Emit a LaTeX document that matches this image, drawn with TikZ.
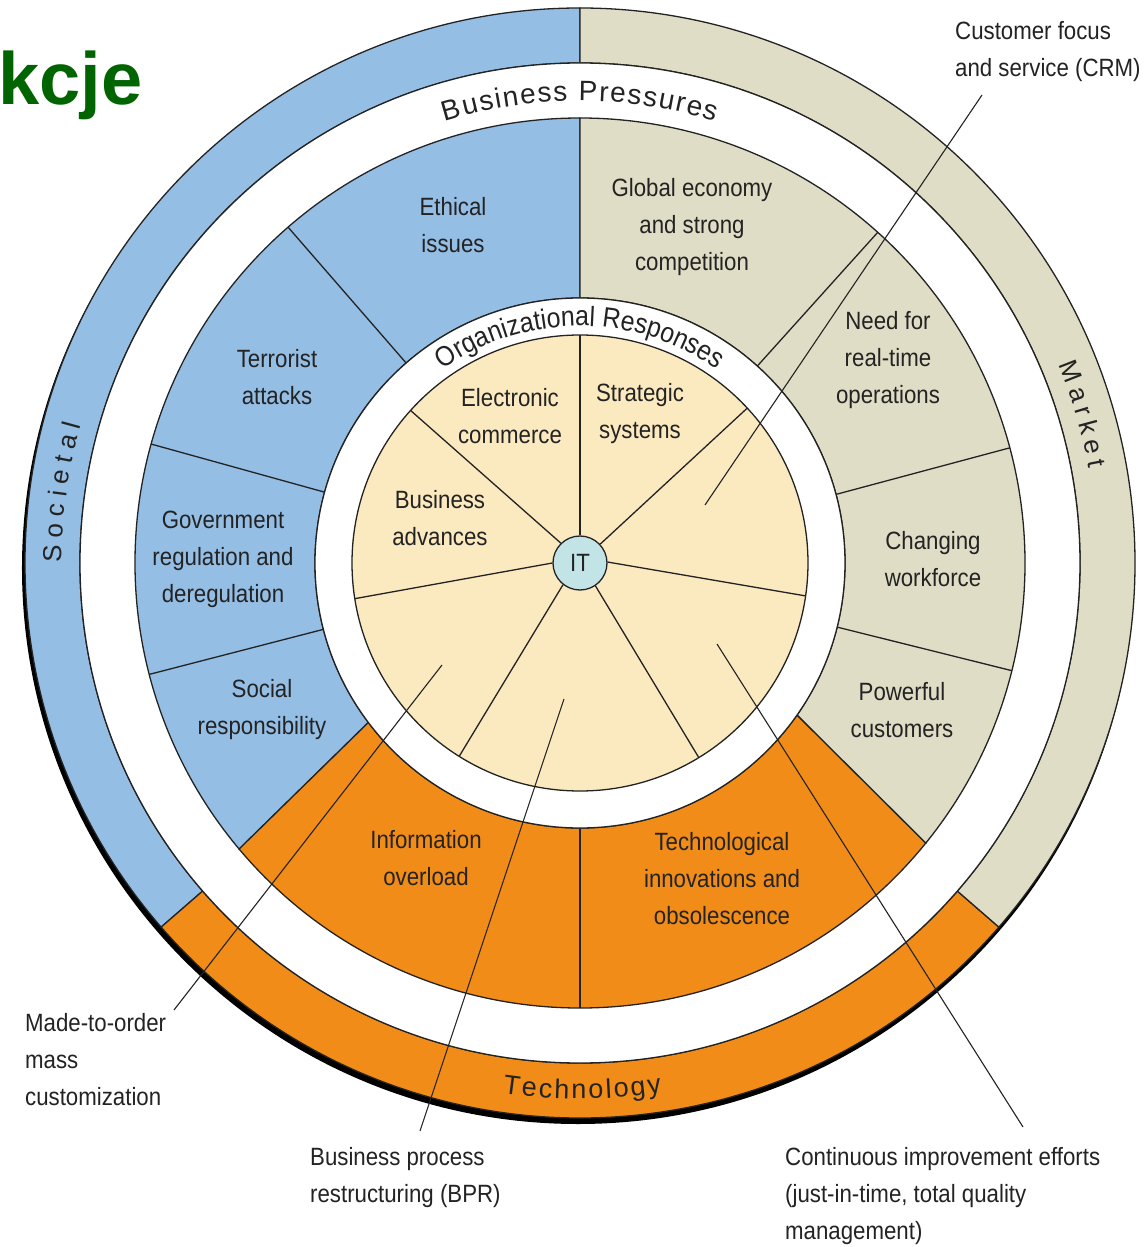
\documentclass[tikz,border=0pt]{standalone}
\usepackage{fontspec}
\setmainfont{Liberation Sans}[FakeStretch=0.89]
\newfontfamily\ringfont{Liberation Sans}
\newfontfamily\titlefont{Liberation Sans}
\usetikzlibrary{decorations.text,positioning}

\definecolor{societal}{RGB}{148,190,228}
\definecolor{market}{RGB}{224,221,198}
\definecolor{techno}{RGB}{242,140,24}
\definecolor{core}{RGB}{251,233,192}
\definecolor{itcol}{RGB}{194,228,230}
\definecolor{ink}{RGB}{35,35,35}
\definecolor{kgreen}{RGB}{0,100,0}

\begin{document}
\begin{tikzpicture}[x=1pt,y=1pt,
  rim/.style={draw=ink,line width=1.3pt},
  lbl/.style={font=\fontsize{25}{37}\selectfont,text=ink,align=center,inner sep=0pt},
  note/.style={lbl,align=left},
  callout/.style={draw=ink,line width=1.1pt}]
\useasboundingbox (-580,-684) rectangle (565,563);
\fill[white] (-580,-684) rectangle (565,563);
\fill[black] (-2,-5) circle (556);
\foreach \a/\b/\c in {90/221/societal,221/319/techno,319/450/market}
  \filldraw[rim,fill=\c] (\a:555) arc[start angle=\a,end angle=\b,radius=555]
    -- (\b:500) arc[start angle=\b,end angle=\a,radius=500] -- cycle;
\filldraw[rim,fill=white] (0,0) circle (500);
\foreach \a/\b/\p/\q/\c in {90/220/90/217/societal,220/321/217/325/techno,321/450/325/450/market}
  \filldraw[rim,fill=\c] (\a:445) arc[start angle=\a,end angle=\b,radius=445]
    -- (\q:265) arc[start angle=\q,end angle=\p,radius=265] -- cycle;
\foreach \t in {131,164.5,194.5,270,48,15,-14}
  \draw[rim] (\t:265) -- (\t:445);
\filldraw[rim,fill=white] (0,0) circle (265);
\filldraw[rim,fill=core] (0,0) circle (228);
\node[circle,rim,fill=itcol,minimum size=54pt,lbl] (it) at (0,0) {IT};
\foreach \s/\t in {90/90,134/138,180/189,232/238,304/301.4,2/-8.3,43/42.8}
  \draw[rim] (it.\s) -- (\t:228);

\path[decorate,decoration={text along path,text align=fit to path,
  text={|\ringfont\fontsize{28}{28}\selectfont\color{ink}|Business Pressures}}]
  (107:462) arc[start angle=107,end angle=73,radius=462];
\path[decorate,decoration={text along path,text align=center,
  text={|\fontsize{28}{28}\selectfont\color{ink}|Organizational Responses}}]
  (135:237) arc[start angle=135,end angle=45,radius=237];
\path[decorate,decoration={text along path,text align=fit to path,
  text={|\ringfont\fontsize{26}{26}\selectfont\color{ink}|Societal}}]
  (180:518) arc[start angle=180,end angle=164.5,radius=518];
\path[decorate,decoration={text along path,text align=fit to path,
  text={|\ringfont\fontsize{26}{26}\selectfont\color{ink}|Market}}]
  (22.5:518) arc[start angle=22.5,end angle=10.5,radius=518];
\path[decorate,decoration={text along path,text align=fit to path,
  text={|\ringfont\fontsize{27}{27}\selectfont\color{ink}|Technology}}]
  (-98.3:536) arc[start angle=-98.3,end angle=-81.2,radius=536];

\node[lbl] (ecom) at (-70,147) {Electronic\\commerce};
\node[lbl] (strat) at (60,149) {Strategic\\systems};
\node[lbl] (badv) at (-140,45) {Business\\advances};
\node[lbl] (ethic) at (-127,338) {Ethical\\issues};
\node[lbl] (terror) at (-303,186) {Terrorist\\attacks};
\node[lbl] (govt) at (-357,4) {Government\\regulation and\\deregulation};
\node[lbl] (social) at (-318,-147) {Social\\responsibility};
\node[lbl] (info) at (-154,-295) {Information\\overload};
\node[lbl] (innov) at (142,-316) {Technological\\innovations and\\obsolescence};
\node[lbl] (global) at (112,336) {Global economy\\and strong\\competition};
\node[lbl] (realtime) at (308,203) {Need for\\real-time\\operations};
\node[lbl] (workforce) at (353,4) {Changing\\workforce};
\node[lbl] (powerful) at (322,-147) {Powerful\\customers};

\node[note,anchor=west] (crm) at (375,511) {Customer focus\\and service (CRM)};
\node[note,anchor=west] (mass) at (-555,-497) {Made-to-order\\mass\\customization};
\node[note,anchor=west] (bpr) at (-270,-615) {Business process\\restructuring (BPR)};
\node[note,anchor=west] (cqi) at (205,-633) {Continuous improvement efforts\\(just-in-time, total quality\\management)};
\node[anchor=base west,font=\titlefont\bfseries\fontsize{74}{74}\selectfont,text=kgreen,inner sep=0pt] (title) at (-582,458) {kcje};

\coordinate (crmfoot) at (402,468);
\coordinate (crmtip) at (125,58);
\coordinate (massfoot) at (-406,-447);
\coordinate (masstip) at (-138,-102);
\coordinate (bprfoot) at (-160,-568);
\coordinate (bprtip) at (-16,-136);
\coordinate (cqifoot) at (443,-564);
\coordinate (cqitip) at (137,-81);
\draw[callout] (crmfoot) -- (crmtip);
\draw[callout] (massfoot) -- (masstip);
\draw[callout] (bprfoot) -- (bprtip);
\draw[callout] (cqifoot) -- (cqitip);
\end{tikzpicture}
\end{document}
